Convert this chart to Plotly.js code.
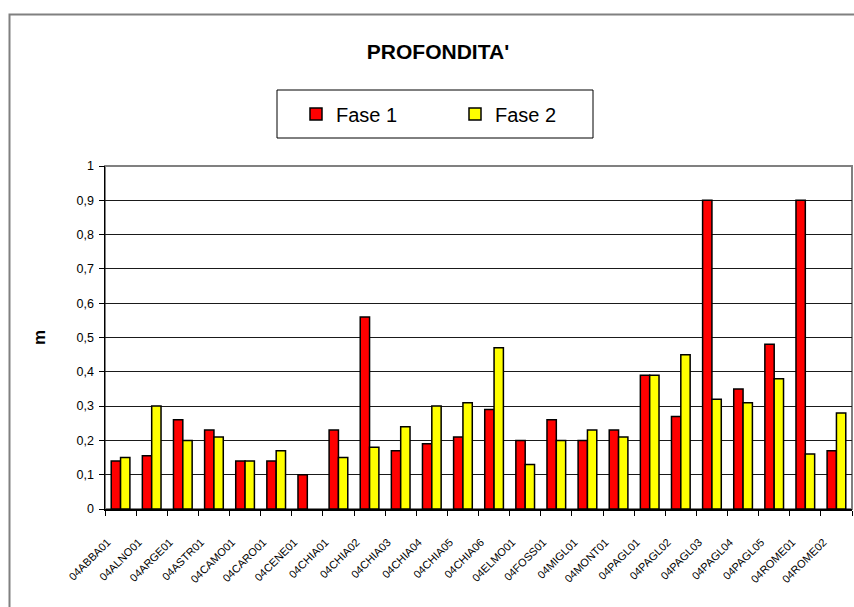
<!DOCTYPE html>
<html>
<head>
<meta charset="utf-8">
<script src="https://cdn.plot.ly/plotly-3.0.1.min.js"></script>
<style>
html,body{margin:0;padding:0;background:#fff;}
#chart{width:854px;height:607px;}
</style>
</head>
<body>
<div id="chart"></div>
<script>
var categories = ["04ABBA01","04ALNO01","04ARGE01","04ASTR01","04CAMO01","04CARO01","04CENE01","04CHIA01","04CHIA02","04CHIA03","04CHIA04","04CHIA05","04CHIA06","04ELMO01","04FOSS01","04MIGL01","04MONT01","04PAGL01","04PAGL02","04PAGL03","04PAGL04","04PAGL05","04ROME01","04ROME02"];
var fase1 = [0.14,0.155,0.26,0.23,0.14,0.14,0.10,0.23,0.56,0.17,0.19,0.21,0.29,0.20,0.26,0.20,0.23,0.39,0.27,0.90,0.35,0.48,0.90,0.17];
var fase2 = [0.15,0.30,0.20,0.21,0.14,0.17,null,0.15,0.18,0.24,0.30,0.31,0.47,0.13,0.20,0.23,0.21,0.39,0.45,0.32,0.31,0.38,0.16,0.28];
var seriesNames = ["Fase 1","Fase 2"];
var chartTitle = "PROFONDITA'";
var yTitle = "m";

var FONT = "Liberation Sans, Arial, sans-serif";
var L = 105, R = 2, T = 166, B = 98, W = 854, H = 607;
var pw = W - L - R, ph = H - T - B;
function px(x){ return (x - L) / pw; }
function py(y){ return (H - B - y) / ph; }

var traces = [
  {type:"bar", name:seriesNames[0], x:categories, y:fase1,
   marker:{color:"#FF0000", line:{color:"#000000", width:1.5}}},
  {type:"bar", name:seriesNames[1], x:categories, y:fase2,
   marker:{color:"#FFFF00", line:{color:"#000000", width:1.5}}}
];

var layout = {
  width: W, height: H,
  margin: {l:L, r:R, t:T, b:B, pad:0},
  paper_bgcolor: "#ffffff",
  plot_bgcolor: "#ffffff",
  separators: ", ",
  font: {family: FONT, color: "#000000"},
  barmode: "group",
  bargap: 0.4,
  bargroupgap: 0,
  title: {text: "<b>" + chartTitle + "</b>", font:{family:FONT, size:21, color:"#000"},
          xref:"container", x: 438/W, xanchor:"center",
          yref:"container", y: 1 - 52/H, yanchor:"middle"},
  showlegend: true,
  legend: {orientation:"h", xref:"paper", yref:"paper",
           x: px(296), xanchor:"left", y: py(114), yanchor:"middle",
           font:{family:FONT, size:20, color:"#000"},
           bgcolor:"rgba(0,0,0,0)", borderwidth:0,
           entrywidth:114, entrywidthmode:"pixels", traceorder:"normal"},
  xaxis: {type:"category", showline:true, linecolor:"#000", linewidth:1.5,
          ticks:"outside", tickson:"boundaries", ticklen:5, tickcolor:"#000", tickwidth:1,
          tickangle:-45, tickfont:{family:FONT, size:11, color:"#000"},
          ticklabelstandoff:21, ticklabelshift:-13,
          showgrid:false, fixedrange:true, automargin:false},
  yaxis: {range:[0,1], dtick:0.1, tick0:0, showline:true, linecolor:"#000", linewidth:1.5,
          ticks:"outside", ticklen:5, tickcolor:"#000", tickwidth:1,
          tickfont:{family:FONT, size:12.5, color:"#000"}, ticklabelstandoff:2,
          showgrid:true, gridcolor:"#1a1a1a", gridwidth:1, zeroline:false,
          title:{text:"<b>" + yTitle + "</b>", font:{family:FONT, size:17, color:"#000"}, standoff:26},
          fixedrange:true, automargin:false},
  shapes: [
    {type:"rect", xref:"paper", yref:"paper", x0:px(9.5), x1:px(900), y0:py(650), y1:py(14.5),
     line:{color:"#808080", width:2}, fillcolor:"rgba(0,0,0,0)", layer:"below"},
    {type:"rect", xref:"paper", yref:"paper", x0:0, x1:1, y0:0, y1:1,
     line:{color:"#808080", width:2}, fillcolor:"rgba(0,0,0,0)", layer:"below"},
    {type:"rect", xref:"paper", yref:"paper", x0:px(277), x1:px(593), y0:py(138), y1:py(90),
     line:{color:"#000", width:1}, fillcolor:"rgba(0,0,0,0)", layer:"above"}
  ]
};

Plotly.newPlot("chart", traces, layout, {staticPlot:true, displayModeBar:false});
</script>
</body>
</html>
